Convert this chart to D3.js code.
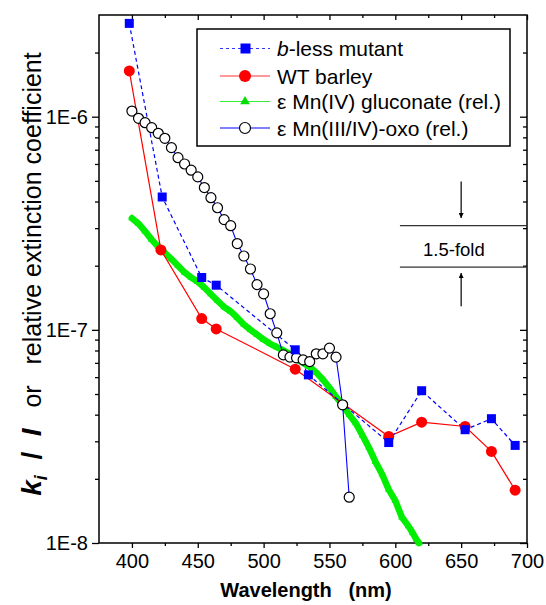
<!DOCTYPE html>
<html>
<head>
<meta charset="utf-8">
<script src="https://cdn.jsdelivr.net/npm/d3@7"></script>
<style>
  body { margin: 0; background: #fff; }
  text { font-family: Arial, 'Liberation Sans', sans-serif; }
</style>
</head>
<body>
<div id="chart"></div>
<script>

// b-less mutant
var blessWl = [398, 423, 453, 464, 524, 534, 595, 620, 653, 673, 691];
var blessK = [2.74e-6, 4.20e-7, 1.76e-7, 1.62e-7, 8.06e-8, 6.15e-8, 2.96e-8, 5.18e-8, 3.40e-8, 3.83e-8, 2.87e-8];

// WT barley
var wtWl = [398, 422, 453, 464, 524, 595, 620, 653, 673, 691];
var wtK = [1.64e-6, 2.37e-7, 1.13e-7, 1.01e-7, 6.54e-8, 3.16e-8, 3.69e-8, 3.52e-8, 2.69e-8, 1.77e-8];

// eps Mn(IV) gluconate (rel.)
var glucWl = [400, 405, 410, 415, 420, 425, 430, 435, 440, 445, 450, 455, 460, 465, 470, 475,
  480, 485, 490, 495, 500, 505, 510, 515, 520, 525, 530, 535, 540, 545, 550, 555, 560, 565,
  570, 575, 580, 585, 590, 595, 600, 605, 610, 613, 616, 618];
var glucK = [3.34e-7, 3.15e-7, 2.9e-7, 2.65e-7, 2.45e-7, 2.3e-7, 2.15e-7, 2.0e-7, 1.86e-7, 1.76e-7,
  1.68e-7, 1.58e-7, 1.47e-7, 1.37e-7, 1.28e-7, 1.22e-7, 1.14e-7, 1.06e-7, 1.0e-7, 9.5e-8,
  9.0e-8, 8.6e-8, 8.3e-8, 8.0e-8, 7.7e-8, 7.3e-8, 7.0e-8, 6.7e-8, 6.3e-8, 5.85e-8,
  5.35e-8, 4.85e-8, 4.45e-8, 4.0e-8, 3.65e-8, 3.2e-8, 2.8e-8, 2.4e-8, 2.1e-8, 1.78e-8,
  1.58e-8, 1.32e-8, 1.2e-8, 1.12e-8, 1.04e-8, 1.0e-8];

// eps Mn(III/IV)-oxo (rel.)
var oxoWl = [400, 405, 410, 415, 420, 425, 430, 435, 440, 445, 450, 455, 460, 465, 470, 475,
  480, 485, 490, 495, 500, 505, 510, 515, 520, 525, 530, 535, 540, 545, 550, 555, 560, 565];
var oxoK = [1.063e-6, 9.83e-7, 9.37e-7, 8.88e-7, 8.36e-7, 7.92e-7, 7.16e-7, 6.42e-7, 6.00e-7, 5.61e-7,
  5.22e-7, 4.65e-7, 4.17e-7, 3.74e-7, 3.29e-7, 3.08e-7, 2.54e-7, 2.22e-7, 1.93e-7, 1.63e-7,
  1.475e-7, 1.19e-7, 9.68e-8, 7.63e-8, 7.45e-8, 7.39e-8, 7.23e-8, 7.10e-8, 7.72e-8, 7.72e-8,
  8.21e-8, 7.45e-8, 4.45e-8, 1.64e-8];

var seriesNames = ['b-less mutant', 'WT barley', 'ε Mn(IV) gluconate (rel.)', 'ε Mn(III/IV)-oxo (rel.)'];

var xTicks = [400, 450, 500, 550, 600, 650, 700];
var xMinorTicks = [425, 475, 525, 575, 625, 675];
var yTicks = [1e-8, 1e-7, 1e-6];
var yMinorTicks = [2e-8, 3e-8, 4e-8, 5e-8, 6e-8, 7e-8, 8e-8, 9e-8,
  2e-7, 3e-7, 4e-7, 5e-7, 6e-7, 7e-7, 8e-7, 9e-7, 2e-6];

// 1.5-fold marker: band edges, arrow ends, where it sits
var foldBand = [3.08e-7, 1.97e-7];
var foldArrowDown = [4.96e-7, 3.35e-7];
var foldArrowUp = [1.29e-7, 1.85e-7];
var foldWl = 650, foldStartWl = 603.5, foldLabelWl = 644.5;

var width = 546, height = 605;
var margin = {top: 15, left: 99, right: 19, bottom: 62};
var w = width - margin.left - margin.right,
    h = height - margin.top - margin.bottom;

var svg = d3.select('#chart').append('svg')
    .attr('width', width)
    .attr('height', height);

var g = svg.append('g')
    .attr('transform', 'translate(' + margin.left + ',' + margin.top + ')');

var x = d3.scaleLinear().domain([375, 700]).range([0, w]);
var y = d3.scaleLog().domain([1e-8, 3e-6]).range([h, 0]);

function zip(a, b) {
  return a.map(function(d, i) { return [d, b[i]]; });
}

var line = d3.line()
  .x(function(d) { return x(d[0]); })
  .y(function(d) { return y(d[1]); });

// axes
var fmt = function(d) { return '1E' + Math.round(Math.log10(d)); };

function styleAxis(sel) {
  sel.select('.domain').remove();
  sel.selectAll('line').attr('stroke', '#000').attr('stroke-width', 1.3);
  sel.selectAll('text').attr('font-size', 20).attr('fill', '#000');
}

g.append('g').attr('transform', 'translate(0,' + h + ')')
  .call(d3.axisBottom(x).tickValues(xTicks).tickSize(5).tickPadding(6).tickFormat(d3.format('d')))
  .call(styleAxis);
g.append('g').attr('transform', 'translate(0,' + h + ')')
  .call(d3.axisBottom(x).tickValues(xMinorTicks).tickSize(3).tickFormat(''))
  .call(styleAxis);
g.append('g')
  .call(d3.axisTop(x).tickValues(xTicks).tickSize(-5).tickFormat(''))
  .call(styleAxis);
g.append('g')
  .call(d3.axisTop(x).tickValues(xMinorTicks).tickSize(-3).tickFormat(''))
  .call(styleAxis);

g.append('g')
  .call(d3.axisLeft(y).tickValues(yTicks).tickSize(7).tickPadding(4).tickFormat(fmt))
  .call(styleAxis);
g.append('g')
  .call(d3.axisLeft(y).tickValues(yMinorTicks).tickSize(4).tickFormat(''))
  .call(styleAxis);
g.append('g').attr('transform', 'translate(' + w + ',0)')
  .call(d3.axisRight(y).tickValues(yTicks).tickSize(-7).tickFormat(''))
  .call(styleAxis);
g.append('g').attr('transform', 'translate(' + w + ',0)')
  .call(d3.axisRight(y).tickValues(yMinorTicks).tickSize(-4).tickFormat(''))
  .call(styleAxis);

g.append('rect')
  .attr('width', w).attr('height', h)
  .attr('fill', 'none').attr('stroke', '#000').attr('stroke-width', 1.5);

// 1.5-fold annotation
g.selectAll('.fold').data(foldBand).enter().append('line')
  .attr('x1', x(foldStartWl)).attr('x2', w)
  .attr('y1', function(d) { return y(d); }).attr('y2', function(d) { return y(d); })
  .attr('stroke', '#333').attr('stroke-width', 1.3);

svg.append('defs').append('marker')
  .attr('id', 'head').attr('viewBox', '0 0 10 10')
  .attr('refX', 10).attr('refY', 5)
  .attr('markerWidth', 9).attr('markerHeight', 5)
  .attr('markerUnits', 'userSpaceOnUse')
  .attr('orient', 'auto')
  .append('path').attr('d', 'M0,0L10,5L0,10Z').attr('fill', '#000');

[foldArrowDown, foldArrowUp].forEach(function(a) {
  g.append('line')
    .attr('x1', x(foldWl)).attr('x2', x(foldWl))
    .attr('y1', y(a[0])).attr('y2', y(a[1]))
    .attr('stroke', '#000').attr('stroke-width', 1.2)
    .attr('marker-end', 'url(#head)');
});

g.append('text')
  .attr('x', x(foldLabelWl)).attr('y', (y(foldBand[0]) + y(foldBand[1])) / 2 + 10)
  .attr('text-anchor', 'middle').attr('font-size', 18.5)
  .text('1.5-fold');

// gluconate: thick green band of tiny triangles
var green = '#00ee00';
g.append('path')
  .datum(zip(glucWl, glucK))
  .attr('d', line)
  .attr('fill', 'none').attr('stroke', green)
  .attr('stroke-width', 6.5).attr('stroke-linejoin', 'round').attr('stroke-linecap', 'round');

var tri = d3.symbol().type(d3.symbolTriangle).size(24);
g.selectAll('.tri').data(zip(glucWl, glucK)).enter().append('path')
  .attr('d', tri)
  .attr('transform', function(d) { return 'translate(' + x(d[0]) + ',' + y(d[1]) + ')'; })
  .attr('fill', green);

// WT barley
g.append('path')
  .datum(zip(wtWl, wtK))
  .attr('d', line)
  .attr('fill', 'none').attr('stroke', '#ff0000').attr('stroke-width', 1.2);

// b-less mutant
g.append('path')
  .datum(zip(blessWl, blessK))
  .attr('d', line)
  .attr('fill', 'none').attr('stroke', '#0000ff').attr('stroke-width', 1.2)
  .attr('stroke-dasharray', '4,3');

// Mn oxo
g.append('path')
  .datum(zip(oxoWl, oxoK))
  .attr('d', line)
  .attr('fill', 'none').attr('stroke', '#0000ff').attr('stroke-width', 1.1);

g.selectAll('.oxo').data(zip(oxoWl, oxoK)).enter().append('circle')
  .attr('cx', function(d) { return x(d[0]); })
  .attr('cy', function(d) { return y(d[1]); })
  .attr('r', 5).attr('fill', '#fff').attr('stroke', '#000').attr('stroke-width', 1.2);

g.selectAll('.wt').data(zip(wtWl, wtK)).enter().append('circle')
  .attr('cx', function(d) { return x(d[0]); })
  .attr('cy', function(d) { return y(d[1]); })
  .attr('r', 5.5).attr('fill', '#ff0000');

g.selectAll('.bless').data(zip(blessWl, blessK)).enter().append('rect')
  .attr('x', function(d) { return x(d[0]) - 4.5; })
  .attr('y', function(d) { return y(d[1]) - 4.5; })
  .attr('width', 9).attr('height', 9).attr('fill', '#0000ff');

// legend
var legend = svg.append('g').attr('transform', 'translate(197,29)');
legend.append('rect')
  .attr('width', 313).attr('height', 117)
  .attr('fill', '#fff').attr('stroke', '#000').attr('stroke-width', 1.5);

var rowY = [19.5, 47, 72.5, 99];
var legendLine = [
  {stroke: '#3333ff', dash: '3,3'},
  {stroke: '#ff3333', dash: null},
  {stroke: '#33ee33', dash: null},
  {stroke: '#0000ff', dash: null}
];

seriesNames.forEach(function(name, i) {
  var row = legend.append('g').attr('transform', 'translate(0,' + rowY[i] + ')');
  row.append('line')
    .attr('x1', 23).attr('x2', 73)
    .attr('stroke', legendLine[i].stroke).attr('stroke-width', 1.1)
    .attr('stroke-dasharray', legendLine[i].dash);
  if (i === 0) {
    row.append('rect').attr('x', 43.5).attr('y', -5).attr('width', 10).attr('height', 10).attr('fill', '#0000ff');
  } else if (i === 1) {
    row.append('circle').attr('cx', 48).attr('r', 6).attr('fill', '#ff0000');
  } else if (i === 2) {
    row.append('path').attr('d', d3.symbol().type(d3.symbolTriangle).size(40))
      .attr('transform', 'translate(48,0)').attr('fill', '#00dd00');
  } else {
    row.append('circle').attr('cx', 48).attr('r', 5.5)
      .attr('fill', '#fff').attr('stroke', '#000').attr('stroke-width', 1.2);
  }
  var t = row.append('text').attr('x', 80).attr('y', 7.5).attr('font-size', 21);
  if (i === 0) {
    t.append('tspan').attr('font-style', 'italic').text('b');
    t.append('tspan').text('-less mutant');
  } else {
    t.text(name);
  }
});

// axis titles
svg.append('text')
  .attr('x', margin.left + w / 2 - 7).attr('y', 597)
  .attr('text-anchor', 'middle')
  .attr('font-size', 20).attr('font-weight', 'bold')
  .attr('xml:space', 'preserve')
  .text('Wavelength   (nm)');

var yt = svg.append('text')
  .attr('transform', 'translate(41,274) rotate(-90)')
  .attr('text-anchor', 'middle')
  .attr('font-size', 25)
  .attr('xml:space', 'preserve');
yt.append('tspan').attr('font-weight', 'bold').attr('font-style', 'italic').attr('font-size', 28).text('k');
yt.append('tspan').attr('font-weight', 'bold').attr('font-style', 'italic').attr('font-size', 18).attr('dy', 6).text('i');
yt.append('tspan').attr('font-weight', 'bold').attr('font-size', 28).attr('dy', -6).text('  /  ');
yt.append('tspan').attr('font-weight', 'bold').attr('font-style', 'italic').attr('font-size', 28).text('I');
yt.append('tspan').text('   or   relative extinction coefficient');

</script>
</body>
</html>
